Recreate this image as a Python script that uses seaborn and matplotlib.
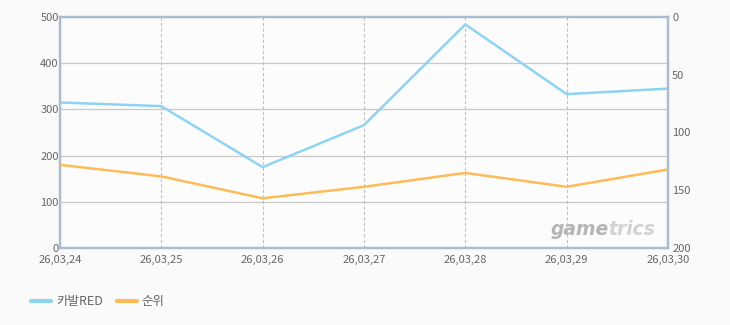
import matplotlib
matplotlib.use("Agg")
import matplotlib.pyplot as plt
import seaborn as sns
import pandas as pd
from matplotlib.lines import Line2D

dates = ["26,03,24", "26,03,25", "26,03,26", "26,03,27", "26,03,28", "26,03,29", "26,03,30"]
users = [315, 307, 175, 266, 484, 333, 345]
rank = [128, 138, 157, 147, 135, 147, 132]
left_ticks = [0, 100, 200, 300, 400, 500]
right_ticks = [0, 50, 100, 150, 200]
series_names = ["카발RED", "순위"]

sns.set_theme(style="white")
plt.rcParams['font.family'] = ['Noto Sans CJK KR', 'DejaVu Sans']

blue = "#8fd3f2"
orange = "#ffbb58"
frame = "#a9bcd2"
txt = "#666666"

fig = plt.figure(figsize=(7.3, 3.25), dpi=100, facecolor="#fafafa")
ax = fig.add_axes([60/730, 1-248/325, 608/730, 231/325])
ax.set_facecolor("#fcfcfc")

df = pd.DataFrame({"x": range(len(dates)), "users": users, "rank": rank})

sns.lineplot(data=df, x="x", y="users", ax=ax, color=blue, linewidth=1.8, zorder=3)
ax.set_xlim(0, len(dates) - 1)
ax.set_ylim(0, 500)
ax.set_yticks(left_ticks)
ax.set_yticklabels([str(t) for t in left_ticks])
ax.set_xticks(range(len(dates)))
ax.set_xticklabels(dates)
ax.set_xlabel("")
ax.set_ylabel("")

for y in left_ticks[1:-1]:
    ax.axhline(y, color="#c8c8c8", linewidth=0.9, zorder=1)
for i in range(1, len(dates) - 1):
    ax.axvline(i, color="#c0c0c0", linewidth=0.8, linestyle=(0, (3, 2)), zorder=1)

ax2 = ax.twinx()
sns.lineplot(data=df, x="x", y="rank", ax=ax2, color=orange, linewidth=1.8, zorder=3)
ax2.set_ylim(200, 0)
ax2.set_yticks(right_ticks)
ax2.set_yticklabels([str(t) for t in right_ticks])
ax2.set_ylabel("")
ax2.set_xlim(0, len(dates) - 1)

for a in (ax, ax2):
    a.tick_params(axis="both", length=0, labelsize=8, labelcolor=txt)
    for s in a.spines.values():
        s.set_color(frame)
        s.set_linewidth(1.6)
ax.tick_params(axis="x", pad=5)
ax.tick_params(axis="y", pad=1)
ax2.tick_params(axis="y", pad=3)

# watermark
ax.text(0.902, 0.082, "game", transform=ax.transAxes, ha="right", va="center",
        fontsize=13.5, fontstyle="italic", fontweight="bold", color="#b5b5b5",
        family="DejaVu Sans", zorder=2)
ax.text(0.902, 0.082, "trics", transform=ax.transAxes, ha="left", va="center",
        fontsize=13.5, fontstyle="italic", fontweight="bold", color="#d2d2d2",
        family="DejaVu Sans", zorder=2)

handles = [Line2D([0], [0], color=blue, linewidth=3), Line2D([0], [0], color=orange, linewidth=3)]
fig.legend(handles, series_names, loc="center left", bbox_to_anchor=(0.027, 1 - 302/325), ncol=2,
           frameon=False, fontsize=9, labelcolor=txt, handlelength=1.6, columnspacing=1.1,
           handletextpad=0.4)

fig.savefig("out.png", dpi=100, facecolor=fig.get_facecolor())
